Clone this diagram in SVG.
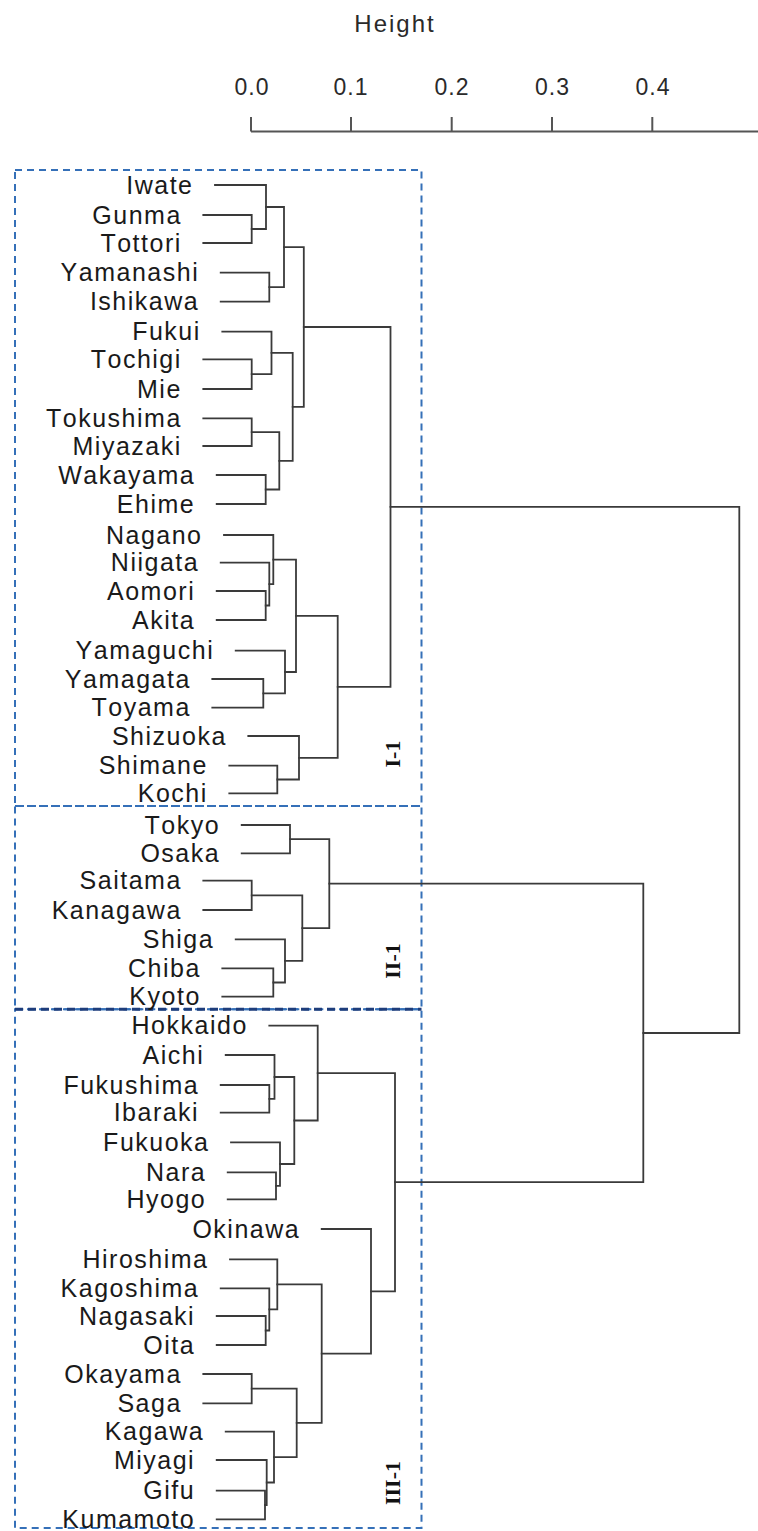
<svg xmlns="http://www.w3.org/2000/svg" width="758" height="1531" viewBox="0 0 758 1531">
<style>
.lbl{font-family:"Liberation Sans",Arial,sans-serif;font-size:25px;letter-spacing:1.5px;fill:#1a1a1a;text-anchor:end;font-kerning:none}
.tick{font-family:"Liberation Sans",Arial,sans-serif;font-size:23px;letter-spacing:1px;fill:#2a2a2a;text-anchor:middle}
.ttl{font-family:"Liberation Sans",Arial,sans-serif;font-size:24px;letter-spacing:2px;fill:#2a2a2a;text-anchor:middle}
.clu{font-family:"Liberation Serif","Times New Roman",serif;font-size:22px;font-weight:bold;fill:#111;text-anchor:middle}
.br{fill:none;stroke:#3a3a3a;stroke-width:1.8;stroke-linejoin:miter;stroke-linecap:square}
.ax{fill:none;stroke:#555;stroke-width:2}
.box{fill:none;stroke:#3570b8;stroke-width:2;stroke-dasharray:7 5}
.div{fill:none;stroke:#1e3d7b;stroke-width:3;stroke-dasharray:8 5}
</style>
<rect x="0" y="0" width="758" height="1531" fill="#fff"/>
<g id="axis">
<text class="ttl" x="395" y="32">Height</text>
<path class="ax" d="M251 131.5H758M251 117V131.5M351 117V131.5M451.7 117V131.5M552 117V131.5M652.3 117V131.5"/>
<text class="tick" x="252" y="95">0.0</text>
<text class="tick" x="351" y="95">0.1</text>
<text class="tick" x="452" y="95">0.2</text>
<text class="tick" x="552.5" y="95">0.3</text>
<text class="tick" x="653" y="95">0.4</text>
</g>
<g id="boxes">
<rect id="box-I-1" class="box" x="15" y="170" width="406.5" height="636"/>
<rect id="box-II-1" class="box" x="15" y="806" width="406.5" height="203.3"/>
<rect id="box-III-1" class="box" x="15" y="1009.3" width="406.5" height="518.7"/>
<path class="div" d="M15 1009.3H421.5"/>
</g>
<g id="cluster-labels">
<text class="clu" transform="translate(400,754) rotate(-90)">I-1</text>
<text class="clu" transform="translate(400,961) rotate(-90)">II-1</text>
<text class="clu" transform="translate(400,1483) rotate(-90)">III-1</text>
</g>
<g id="connectors">
<path class="br" d="M203.3 215H251.7V243H203.3"/>
<path class="br" d="M215 185H266V229H251.7"/>
<path class="br" d="M220.7 272.7H269.3V301.7H220.7"/>
<path class="br" d="M266 207H284V287.2H269.3"/>
<path class="br" d="M203.3 359.3H251.7V389H203.3"/>
<path class="br" d="M222.3 331.7H271.5V374.2H251.7"/>
<path class="br" d="M203.3 418.3H251.7V446H203.3"/>
<path class="br" d="M216.7 475H265.7V504H216.7"/>
<path class="br" d="M251.7 432.2H279.3V489.5H265.7"/>
<path class="br" d="M271.5 352.9H292.7V460.8H279.3"/>
<path class="br" d="M284 247.1H303.8V406.9H292.7"/>
<path class="br" d="M216.7 591H265.7V620H216.7"/>
<path class="br" d="M220.7 562.7H269.3V605.5H265.7"/>
<path class="br" d="M224 535H273.3V584.1H269.3"/>
<path class="br" d="M212.3 679H263.3V707.7H212.3"/>
<path class="br" d="M235.7 650.7H285V693.4H263.3"/>
<path class="br" d="M273.3 559.6H296V672H285"/>
<path class="br" d="M229.3 765.7H277.3V793.3H229.3"/>
<path class="br" d="M248.3 736H299V779.5H277.3"/>
<path class="br" d="M296 615.8H337.7V757.8H299"/>
<path class="br" d="M303.8 327H390.5V686.8H337.7"/>
<path class="br" d="M241.7 825H290V853.3H241.7"/>
<path class="br" d="M203.3 880.7H251.7V910H203.3"/>
<path class="br" d="M222.3 968.3H273.3V996.7H222.3"/>
<path class="br" d="M235.7 939.3H285V982.5H273.3"/>
<path class="br" d="M251.7 895.4H302.3V960.9H285"/>
<path class="br" d="M290 839.2H329.3V928.2H302.3"/>
<path class="br" d="M220.7 1085H269.3V1112.7H220.7"/>
<path class="br" d="M225.7 1055H274.5V1098.9H269.3"/>
<path class="br" d="M227.7 1172.3H276V1199.3H227.7"/>
<path class="br" d="M231 1142.3H280V1185.8H276"/>
<path class="br" d="M274.5 1077H294.3V1164H280"/>
<path class="br" d="M269.3 1025.7H317.7V1120.5H294.3"/>
<path class="br" d="M216.7 1316H265.7V1345H216.7"/>
<path class="br" d="M220.7 1288.3H269.3V1330.5H265.7"/>
<path class="br" d="M230 1259.3H277.3V1309.4H269.3"/>
<path class="br" d="M203.3 1374H251.7V1403.3H203.3"/>
<path class="br" d="M216.7 1490.7H265V1519.3H216.7"/>
<path class="br" d="M216.7 1460H266.7V1505H265"/>
<path class="br" d="M225.7 1431.7H274V1482.5H266.7"/>
<path class="br" d="M251.7 1388.7H296.7V1457.1H274"/>
<path class="br" d="M277.3 1284.4H321.7V1422.9H296.7"/>
<path class="br" d="M321.7 1229H371V1353.7H321.7"/>
<path class="br" d="M317.7 1073.1H395V1291.3H371"/>
<path class="br" d="M329.3 883.7H643.3V1182.2H395"/>
<path class="br" d="M390.5 506.9H739.3V1033H643.3"/>
</g>
<g id="leaves" transform="translate(-0.5,0.6)">
<g id="n-iwate"><text class="lbl" x="194" y="193">Iwate</text></g>
<g id="n-gunma"><text class="lbl" x="182.3" y="223">Gunma</text></g>
<g id="n-tottori"><text class="lbl" x="182.3" y="251">Tottori</text></g>
<g id="n-yamanashi"><text class="lbl" x="199.7" y="280.7">Yamanashi</text></g>
<g id="n-ishikawa"><text class="lbl" x="199.7" y="309.7">Ishikawa</text></g>
<g id="n-fukui"><text class="lbl" x="201.3" y="339.7">Fukui</text></g>
<g id="n-tochigi"><text class="lbl" x="182.3" y="367.3">Tochigi</text></g>
<g id="n-mie"><text class="lbl" x="182.3" y="397">Mie</text></g>
<g id="n-tokushima"><text class="lbl" x="182.3" y="426.3">Tokushima</text></g>
<g id="n-miyazaki"><text class="lbl" x="182.3" y="454">Miyazaki</text></g>
<g id="n-wakayama"><text class="lbl" x="195.7" y="483">Wakayama</text></g>
<g id="n-ehime"><text class="lbl" x="195.7" y="512">Ehime</text></g>
<g id="n-nagano"><text class="lbl" x="203" y="543">Nagano</text></g>
<g id="n-niigata"><text class="lbl" x="199.7" y="570.7">Niigata</text></g>
<g id="n-aomori"><text class="lbl" x="195.7" y="599">Aomori</text></g>
<g id="n-akita"><text class="lbl" x="195.7" y="628">Akita</text></g>
<g id="n-yamaguchi"><text class="lbl" x="214.7" y="658.7">Yamaguchi</text></g>
<g id="n-yamagata"><text class="lbl" x="191.3" y="687">Yamagata</text></g>
<g id="n-toyama"><text class="lbl" x="191.3" y="715.7">Toyama</text></g>
<g id="n-shizuoka"><text class="lbl" x="227.3" y="744">Shizuoka</text></g>
<g id="n-shimane"><text class="lbl" x="208.3" y="773.7">Shimane</text></g>
<g id="n-kochi"><text class="lbl" x="208.3" y="801.3">Kochi</text></g>
<g id="n-tokyo"><text class="lbl" x="220.7" y="833">Tokyo</text></g>
<g id="n-osaka"><text class="lbl" x="220.7" y="861.3">Osaka</text></g>
<g id="n-saitama"><text class="lbl" x="182.3" y="888.7">Saitama</text></g>
<g id="n-kanagawa"><text class="lbl" x="182.3" y="918">Kanagawa</text></g>
<g id="n-shiga"><text class="lbl" x="214.7" y="947.3">Shiga</text></g>
<g id="n-chiba"><text class="lbl" x="201.3" y="976.3">Chiba</text></g>
<g id="n-kyoto"><text class="lbl" x="201.3" y="1004.7">Kyoto</text></g>
<g id="n-hokkaido"><text class="lbl" x="248.3" y="1033.7">Hokkaido</text></g>
<g id="n-aichi"><text class="lbl" x="204.7" y="1063">Aichi</text></g>
<g id="n-fukushima"><text class="lbl" x="199.7" y="1093">Fukushima</text></g>
<g id="n-ibaraki"><text class="lbl" x="199.7" y="1120.7">Ibaraki</text></g>
<g id="n-fukuoka"><text class="lbl" x="210" y="1150.3">Fukuoka</text></g>
<g id="n-nara"><text class="lbl" x="206.7" y="1180.3">Nara</text></g>
<g id="n-hyogo"><text class="lbl" x="206.7" y="1207.3">Hyogo</text></g>
<g id="n-okinawa"><text class="lbl" x="300.7" y="1237">Okinawa</text></g>
<g id="n-hiroshima"><text class="lbl" x="209" y="1267.3">Hiroshima</text></g>
<g id="n-kagoshima"><text class="lbl" x="199.7" y="1296.3">Kagoshima</text></g>
<g id="n-nagasaki"><text class="lbl" x="195.7" y="1324">Nagasaki</text></g>
<g id="n-oita"><text class="lbl" x="195.7" y="1353">Oita</text></g>
<g id="n-okayama"><text class="lbl" x="182.3" y="1382">Okayama</text></g>
<g id="n-saga"><text class="lbl" x="182.3" y="1411.3">Saga</text></g>
<g id="n-kagawa"><text class="lbl" x="204.7" y="1439.7">Kagawa</text></g>
<g id="n-miyagi"><text class="lbl" x="195.7" y="1468">Miyagi</text></g>
<g id="n-gifu"><text class="lbl" x="195.7" y="1498.7">Gifu</text></g>
<g id="n-kumamoto"><text class="lbl" x="195.7" y="1527.3">Kumamoto</text></g>
</g>
</svg>
